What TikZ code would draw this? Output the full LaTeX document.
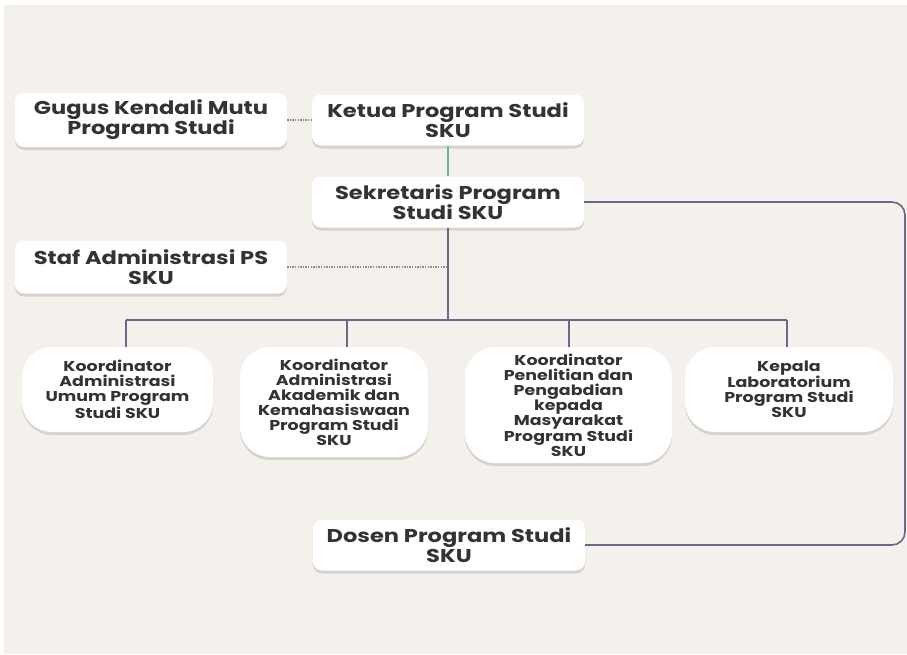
\documentclass[tikz,border=0pt]{standalone}
\usepackage{fontspec}
\setmainfont{Poppins}[FakeStretch=1.22]
\usetikzlibrary{shadows,calc}
\definecolor{bg}{HTML}{F4F1EC}
\definecolor{txt}{HTML}{333333}
\definecolor{ln}{HTML}{6C6784}
\definecolor{grn}{HTML}{7DAE98}
\definecolor{dotc}{HTML}{8C8C8C}
\begin{document}
\begin{tikzpicture}[x=1pt,y=-1pt,
  boxbase/.style={fill=white, align=center, text=txt, inner sep=0pt,
    drop shadow={shadow xshift=0pt, shadow yshift=-3pt, opacity=0.12, fill=black}},
  topbox/.style={boxbase, rounded corners=9pt, font=\bfseries\fontsize{18.5}{20}\selectfont,
    minimum width=272pt, minimum height=51pt},
  lowbox/.style={boxbase, rounded corners=30pt, font=\bfseries\fontsize{14.3}{15}\selectfont},
  conn/.style={draw=ln, line width=1.6pt},
  dotline/.style={draw=dotc, line width=1.1pt, dash pattern=on 1.3pt off 1.3pt}]
\fill[white] (0,0) rectangle (907,654);
\fill[bg] (4,5) rectangle (907,654);
\useasboundingbox (0,0) rectangle (907,654);

\node[topbox, minimum height=54pt] (gugus) at (151,120) {Gugus Kendali Mutu\\Program Studi};
\node[topbox] (ketua) at (448,120) {Ketua Program Studi\\SKU};
\node[topbox] (sek) at (448,202) {Sekretaris Program\\Studi SKU};
\node[topbox, minimum height=53pt] (staf) at (151,267) {Staf Administrasi PS\\SKU};
\node[topbox] (dosen) at (449,545) {Dosen Program Studi\\SKU};

\node[lowbox, minimum width=191pt, minimum height=85pt] (k1) at (117.5,389.5)
  {Koordinator\\Administrasi\\Umum Program\\Studi SKU};
\node[lowbox, minimum width=188pt, minimum height=110pt] (k2) at (334,402)
  {Koordinator\\Administrasi\\Akademik dan\\Kemahasiswaan\\Program Studi\\SKU};
\node[lowbox, minimum width=207pt, minimum height=116pt] (k3) at (568.5,405)
  {Koordinator\\Penelitian dan\\Pengabdian\\kepada\\Masyarakat\\Program Studi\\SKU};
\node[lowbox, minimum width=208pt, minimum height=85pt] (k4) at (789,389.5)
  {Kepala\\Laboratorium\\Program Studi\\SKU};

\coordinate (bus) at (448,320);
\coordinate (d1) at (126,320);
\coordinate (d2) at (347,320);
\coordinate (d3) at (569,320);
\coordinate (d4) at (787,320);
\coordinate (rc) at (905,0);

\draw[dotline] (gugus.east) -- (ketua.west);
\draw[dotline] (staf.east) -- (staf.east -| bus);
\draw[draw=grn, line width=1.4pt] (ketua.south) -- (sek.north);
\draw[conn] (sek.south) -- (bus);
\draw[conn] (d1) -- (d4);
\draw[conn] (d1) -- (d1 |- k1.north);
\draw[conn] (d2) -- (d2 |- k2.north);
\draw[conn] (d3) -- (d3 |- k3.north);
\draw[conn] (d4) -- (d4 |- k4.north);
\draw[conn, rounded corners=13pt] (sek.east) -- (sek.east -| rc) -- (dosen.east -| rc) -- (dosen.east);
\end{tikzpicture}
\end{document}
